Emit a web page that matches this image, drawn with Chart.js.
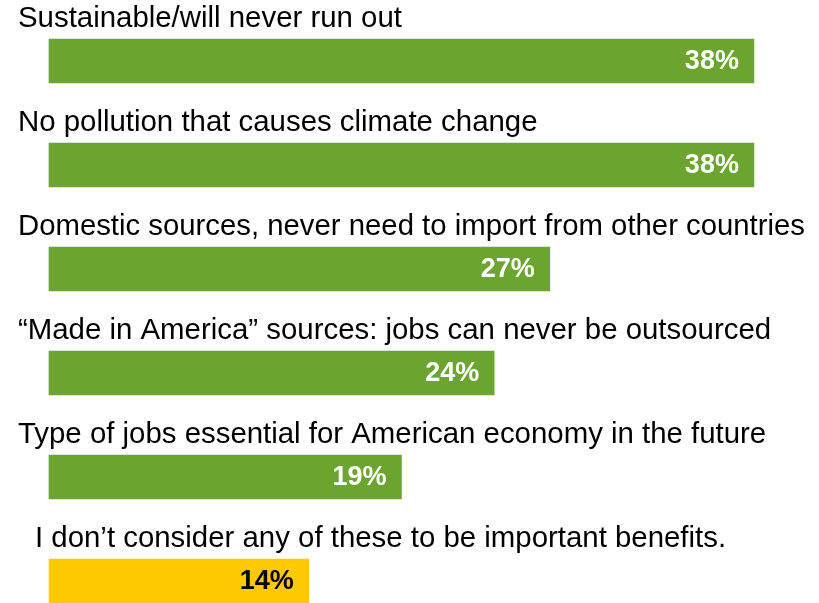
<!DOCTYPE html>
<html>
<head>
<meta charset="utf-8">
<script src="https://cdn.jsdelivr.net/npm/chart.js@4.4.1/dist/chart.umd.min.js"></script>
<style>
  html, body { margin: 0; padding: 0; background: #fff; }
  #wrap { width: 819px; height: 603px; }
</style>
</head>
<body>
<div id="wrap"><canvas id="myChart" width="819" height="603"></canvas></div>
<script>
const categories = [
  "Sustainable/will never run out",
  "No pollution that causes climate change",
  "Domestic sources, never need to import from other countries",
  "\u201cMade in America\u201d sources: jobs can never be outsourced",
  "Type of jobs essential for American economy in the future",
  "I don\u2019t consider any of these to be important benefits."
];
const values = [38, 38, 27, 24, 19, 14];
const barColors = ["#6ba52f", "#6ba52f", "#6ba52f", "#6ba52f", "#6ba52f", "#ffc900"];
const valueLabelColors = ["#fff", "#fff", "#fff", "#fff", "#fff", "#000"];
const labelX = [18, 18, 18, 18, 18, 35];

// category text above each bar + value inside the bar end
const barLabels = {
  id: "barLabels",
  afterDatasetsDraw(chart) {
    const c = chart.ctx;
    const meta = chart.getDatasetMeta(0);
    c.save();
    meta.data.forEach((bar, i) => {
      const top = bar.y - bar.height / 2;
      c.font = "29.4px 'Liberation Sans', Arial, sans-serif";
      c.fillStyle = "#000";
      c.textAlign = "left";
      c.textBaseline = "alphabetic";
      c.fillText(categories[i], labelX[i], top - 12, 805 - labelX[i]);

      c.font = "bold 27px 'Liberation Sans', Arial, sans-serif";
      c.fillStyle = valueLabelColors[i];
      c.textAlign = "right";
      c.textBaseline = "middle";
      c.fillText(values[i] + "%", bar.x - 15, bar.y + 1);
    });
    c.restore();
  }
};

const ctx = document.getElementById("myChart").getContext("2d");
const myChart = new Chart(ctx, {
  type: "bar",
  data: {
    labels: categories,
    datasets: [{
      data: values,
      backgroundColor: barColors,
      borderWidth: 0,
      barThickness: 44,
      clip: false
    }]
  },
  options: {
    indexAxis: "y",
    responsive: false,
    animation: false,
    layout: { padding: { left: 49, right: 28, top: 61, bottom: 22 } },
    plugins: { legend: { display: false }, tooltip: { enabled: false } },
    scales: {
      x: { display: false, min: 0, max: 40 },
      y: { display: false, offset: false }
    }
  },
  plugins: [barLabels]
});
</script>
</body>
</html>
